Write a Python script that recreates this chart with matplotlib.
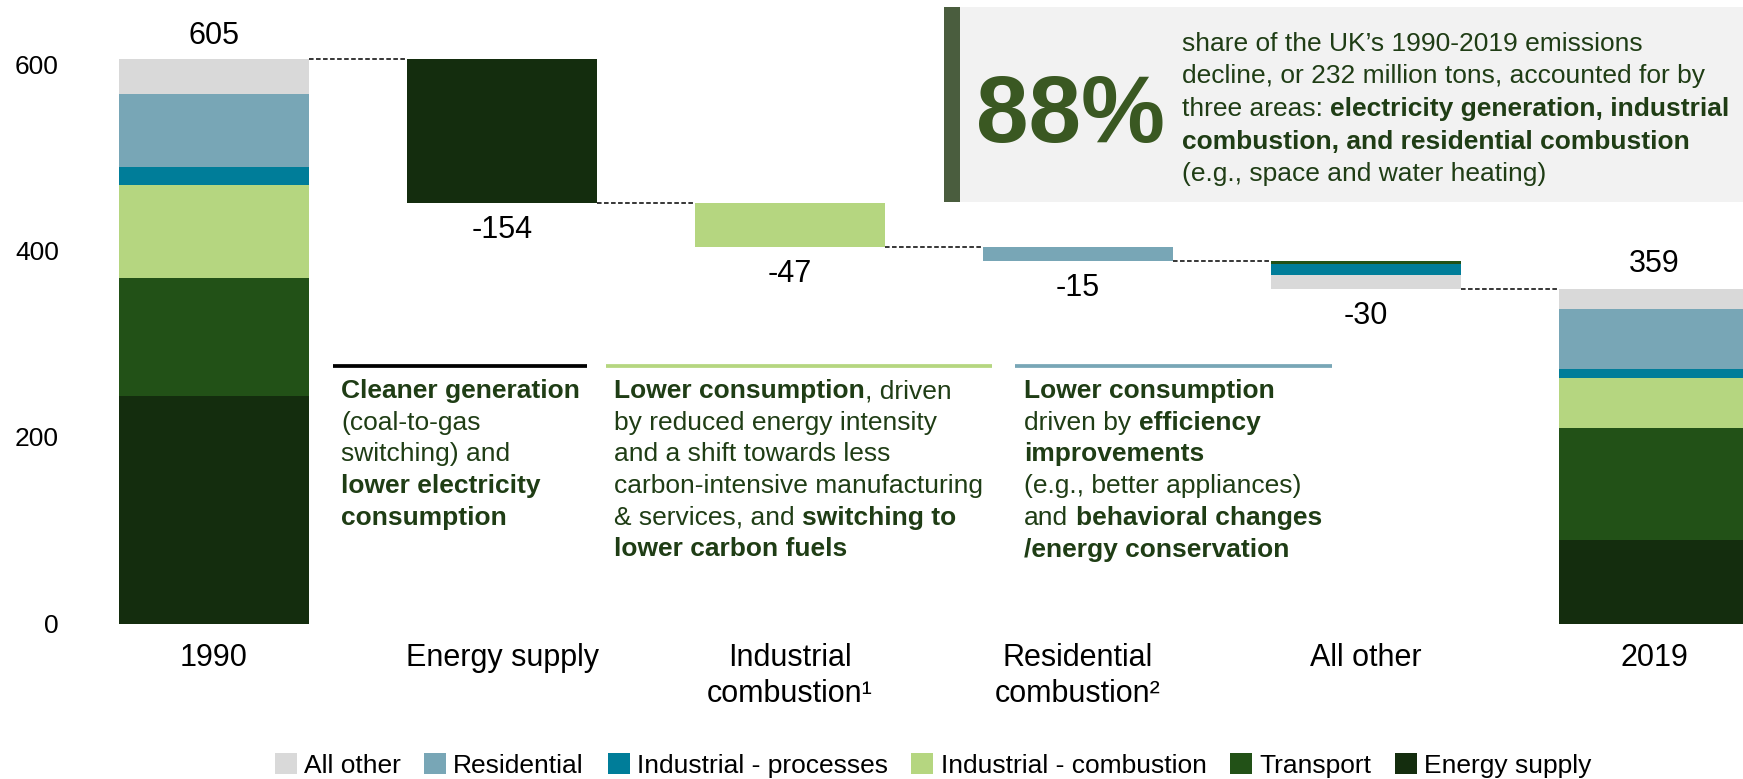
import matplotlib
matplotlib.use("Agg")
import matplotlib.pyplot as plt
from matplotlib.patches import Rectangle
from matplotlib.lines import Line2D

plt.rcParams['font.family'] = ['Liberation Sans', 'DejaVu Sans']

# ---------------- data ----------------
categories = ["1990", "Energy supply", "Industrial\ncombustion¹", "Residential\ncombustion²", "All other", "2019"]
sectors = ["Energy supply", "Transport", "Industrial - combustion",
           "Industrial - processes", "Residential", "All other"]          # bottom -> top
sector_colors = ["#142D0E", "#225117", "#B5D680", "#007D99", "#78A6B6", "#D9D9D9"]
stack_1990 = [244, 126, 100, 20, 78, 37]
stack_2019 = [90, 120, 53, 10, 64, 22]
changes = [-154, -47, -15, -30]
change_sector = ["Energy supply", "Industrial - combustion", "Residential", None]
all_other_parts_sectors = ["Transport", "Industrial - processes", "All other"]   # top -> bottom
all_other_parts_values = [-4, -11, -15]
legend_order = ["All other", "Residential", "Industrial - processes",
                "Industrial - combustion", "Transport", "Energy supply"]
yticks = [0, 200, 400, 600]

col = dict(zip(sectors, sector_colors))

# ---------------- figure ----------------
W, H = 1743, 779
fig = plt.figure(figsize=(W / 100, H / 100), dpi=100)
ax_left, ax_bottom_from_top = 84, 623.5
ax = fig.add_axes([ax_left / W, (H - ax_bottom_from_top) / H, (W - ax_left) / W, ax_bottom_from_top / H])
x0_px, step_px = 214, 288
ax.set_xlim((ax_left - x0_px) / step_px, (W - x0_px) / step_px)
ax.set_ylim(0, ax_bottom_from_top / 0.9325)
for s in ax.spines.values():
    s.set_visible(False)

bw = 0.66
# 1990 stack
bottom = 0
for s, v in zip(sectors, stack_1990):
    ax.bar(0, v, bottom=bottom, width=bw, color=col[s], linewidth=0)
    bottom += v
total_1990 = sum(stack_1990)

levels = [total_1990]
level = total_1990
for i, (d, sec) in enumerate(zip(changes, change_sector)):
    xi = i + 1
    new_level = level + d
    if sec is not None:
        ax.bar(xi, -d, bottom=new_level, width=bw, color=col[sec], linewidth=0)
    else:
        top = level
        for ps, pv in zip(all_other_parts_sectors, all_other_parts_values):
            ax.bar(xi, -pv, bottom=top + pv, width=bw, color=col[ps], linewidth=0)
            top += pv
    ax.annotate(f"{d}", (xi, new_level), xytext=(0, -19.5), textcoords="offset points",
                ha="center", va="center", fontsize=22)
    level = new_level
    levels.append(level)

# 2019 stack
bottom = 0
for s, v in zip(sectors, stack_2019):
    ax.bar(5, v, bottom=bottom, width=bw, color=col[s], linewidth=0)
    bottom += v
total_2019 = sum(stack_2019)

ax.annotate(f"{total_1990}", (0, total_1990), xytext=(0, 17), textcoords="offset points",
            ha="center", va="center", fontsize=22)
ax.annotate(f"{total_2019}", (5, total_2019), xytext=(0, 18), textcoords="offset points",
            ha="center", va="center", fontsize=22)

# connectors
for i, lv in enumerate(levels):
    ax.plot([i + bw / 2, i + 1 - bw / 2], [lv, lv], color="black", lw=1.1,
            ls=(0, (3, 1.6)), solid_capstyle="butt")

ax.set_xticks(range(len(categories)))
ax.set_xticklabels(categories, fontsize=22, linespacing=1.27)
ax.set_yticks(yticks)
ax.set_yticklabels([str(t) for t in yticks], fontsize=19)
ax.tick_params(axis="x", length=0, pad=14)
ax.tick_params(axis="y", length=0, pad=18)

# legend
handles = [Rectangle((0, 0), 1, 1, color=col[s], linewidth=0) for s in legend_order]
fig.legend(handles, legend_order, loc="center", bbox_to_anchor=(933 / W, 1 - 765.5 / H),
           ncol=6, frameon=False, fontsize=19, handlelength=0.83, handleheight=0.83,
           handletextpad=0.27, columnspacing=0.9, borderpad=0, borderaxespad=0)

# ---------------- callout box ----------------
fig.add_artist(Rectangle((944 / W, 1 - 202.3 / H), (W - 944) / W, 195 / H,
                         transform=fig.transFigure, fc="#F2F2F2", ec="none", zorder=2))
fig.add_artist(Rectangle((944 / W, 1 - 202.3 / H), 16 / W, 195 / H,
                         transform=fig.transFigure, fc="#4A5D3E", ec="none", zorder=3))
fig.text(976 / W, 1 - 141.7 / H, "88%", fontsize=68, fontweight="bold", color="#3A5822",
         va="baseline", ha="left", zorder=4)

renderer = fig.canvas.get_renderer()


def text_width(s, size, bold):
    t = fig.text(0, 0, s, fontsize=size, fontweight="bold" if bold else "normal")
    w = t.get_window_extent(renderer=renderer).width
    t.remove()
    return w


def rich_lines(x_px, baselines, lines, size, color):
    sp = {b: text_width("x x", size, b) - text_width("xx", size, b) for b in (True, False)}
    for yb, segs in zip(baselines, lines):
        x = x_px
        for txt, bold in segs:
            stripped = txt.lstrip(" ")
            x += sp[bold] * (len(txt) - len(stripped))
            core = stripped.rstrip(" ")
            trail = len(stripped) - len(core)
            if core:
                t = fig.text(x / W, 1 - yb / H, core, fontsize=size, color=color,
                             fontweight="bold" if bold else "normal",
                             ha="left", va="baseline", zorder=5)
                x += t.get_window_extent(renderer=renderer).width
            x += sp[bold] * trail


txt_color = "#1F3D15"
B, N = True, False
rich_lines(1182, [50.7, 83.4, 116.1, 148.8, 181.5], [
    [("share of the UK’s 1990-2019 emissions", N)],
    [("decline, or 232 million tons, accounted for by", N)],
    [("three areas: ", N), ("electricity generation, industrial", B)],
    [("combustion, and residential combustion", B)],
    [("(e.g., space and water heating)", N)],
], 19, txt_color)

# ---------------- annotation blocks ----------------
for x1, x2, c in [(333, 587, "black"), (606, 992, "#B5D680"), (1015, 1332, "#78A6B6")]:
    fig.add_artist(Line2D([x1 / W, x2 / W], [1 - 366 / H] * 2, color=c, lw=2.7,
                          transform=fig.transFigure, solid_capstyle="butt"))

bl = [398 + 31.7 * k for k in range(6)]
rich_lines(341, bl, [
    [("Cleaner generation", B)],
    [("(coal-to-gas", N)],
    [("switching) and", N)],
    [("lower electricity", B)],
    [("consumption", B)],
], 19, txt_color)
rich_lines(614, bl, [
    [("Lower consumption", B), (", driven", N)],
    [("by reduced energy intensity", N)],
    [("and a shift towards less", N)],
    [("carbon-intensive manufacturing", N)],
    [("& services, and ", N), ("switching to", B)],
    [("lower carbon fuels", B)],
], 19, txt_color)
rich_lines(1024, bl, [
    [("Lower consumption", B)],
    [("driven by ", N), ("efficiency", B)],
    [("improvements", B)],
    [("(e.g., better appliances)", N)],
    [("and ", N), ("behavioral changes", B)],
    [("/energy conservation", B)],
], 19, txt_color)

fig.savefig("out.png", dpi=100)
